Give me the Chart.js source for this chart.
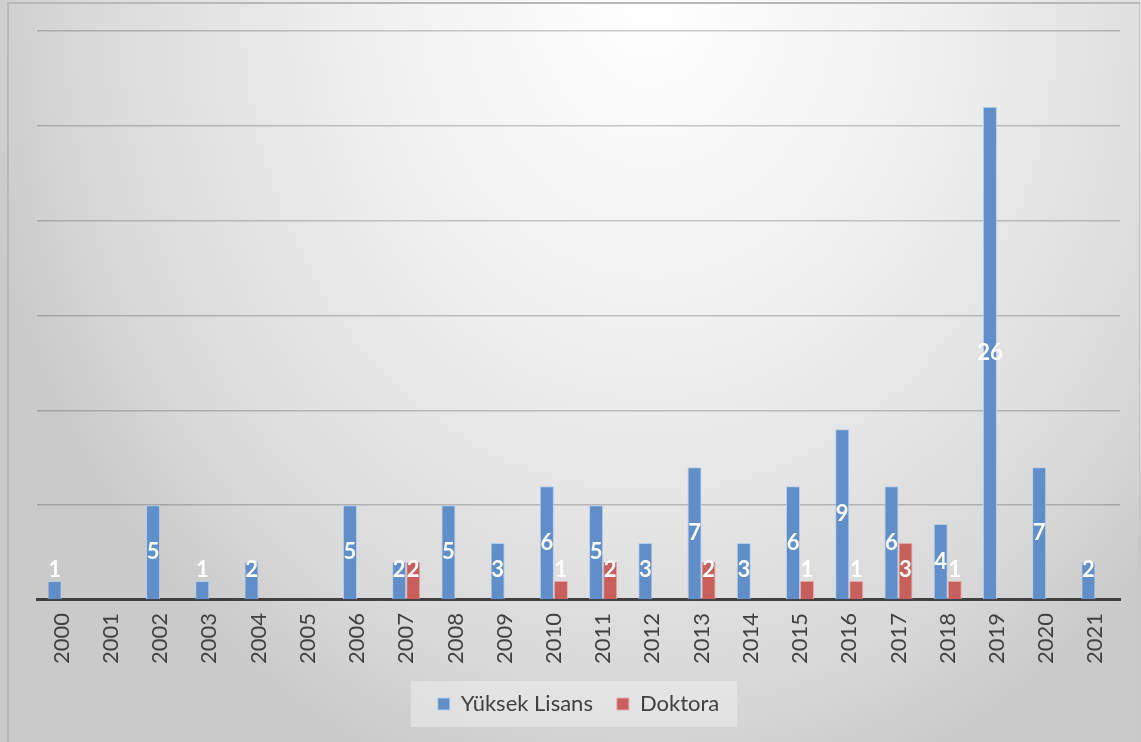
<!DOCTYPE html>
<html>
<head>
<meta charset="utf-8">
<script src="https://cdn.jsdelivr.net/npm/chart.js@4.4.1/dist/chart.umd.min.js"></script>
<style>
  html, body { margin: 0; padding: 0; }
  body {
    width: 1141px; height: 742px; overflow: hidden;
    background: radial-gradient(ellipse 680px 820px at 650px 0px, #ffffff 0%, #eeeeee 45%, #d8d8d8 85%, #cacaca 100%);
  }
  #wrap {
    position: absolute; left: 7px; top: 2px; width: 1130px; height: 740px;
    border-top: 2px solid #b8b8b8; border-left: 2px solid #b8b8b8; border-right: 1px solid #c4c4c4;
  }
  canvas { position: absolute; left: -9px; top: -4px; }
</style>
</head>
<body>
<div id="wrap"><canvas id="chart" width="1141" height="742"></canvas></div>
<script>
const years = ['2000', '2001', '2002', '2003', '2004', '2005', '2006', '2007', '2008', '2009', '2010',
  '2011', '2012', '2013', '2014', '2015', '2016', '2017', '2018', '2019', '2020', '2021'];
const yuksekLisans = [1, 0, 5, 1, 2, 0, 5, 2, 5, 3, 6, 5, 3, 7, 3, 6, 9, 6, 4, 26, 7, 2];
const doktora = [0, 0, 0, 0, 0, 0, 0, 2, 0, 0, 1, 2, 0, 2, 0, 1, 1, 3, 1, 0, 0, 0];
const yMax = 30;
const yStep = 5;

const textColor = '#404040';

// bar value labels, white bold inside the bar
const barLabels = {
  id: 'barLabels',
  afterDatasetsDraw(chart) {
    const ctx = chart.ctx;
    ctx.save();
    ctx.font = 'bold 22px Lato';
    ctx.fillStyle = '#ffffff';
    ctx.textAlign = 'center';
    ctx.textBaseline = 'middle';
    chart.data.datasets.forEach((ds, i) => {
      const meta = chart.getDatasetMeta(i);
      meta.data.forEach((bar, j) => {
        const v = ds.data[j];
        if (!v) return;
        const mid = (bar.y + bar.base) / 2;
        const y = Math.min(mid, bar.base - 29);
        ctx.fillText(String(v), bar.x, y);
      });
    });
    ctx.restore();
  }
};

// light box behind the legend
const legendBox = {
  id: 'legendBox',
  beforeDraw(chart) {
    const boxes = chart.legend && chart.legend.legendHitBoxes;
    if (!boxes || !boxes.length) return;
    const l = Math.min(...boxes.map(b => b.left)) - 27;
    const r = Math.max(...boxes.map(b => b.left + b.width)) + 18;
    const t = Math.min(...boxes.map(b => b.top)) - 12;
    const btm = Math.max(...boxes.map(b => b.top + b.height)) + 12;
    const ctx = chart.ctx;
    ctx.save();
    ctx.fillStyle = 'rgba(240,240,240,0.5)';
    ctx.fillRect(l, t, r - l, btm - t);
    ctx.restore();
  }
};

new Chart(document.getElementById('chart'), {
  type: 'bar',
  data: {
    labels: years,
    datasets: [
      {
        label: 'Yüksek Lisans',
        data: yuksekLisans,
        backgroundColor: '#5f8ec8',
        borderColor: '#b7cce8',
        borderWidth: 1,
        borderSkipped: 'bottom'
      },
      {
        label: 'Doktora',
        data: doktora,
        backgroundColor: '#c75f5d',
        borderColor: '#e6a9a7',
        borderWidth: 1,
        borderSkipped: 'bottom'
      }
    ]
  },
  options: {
    responsive: false,
    animation: false,
    layout: { padding: { left: 37, right: 21, top: 31, bottom: 17 } },
    datasets: { bar: { categoryPercentage: 0.57, barPercentage: 1.0 } },
    plugins: {
      legend: {
        position: 'bottom',
        labels: {
          color: textColor,
          font: { family: 'Lato', size: 22 },
          boxWidth: 12,
          boxHeight: 12,
          padding: 24,
          generateLabels(chart) {
            return chart.data.datasets.map((ds, i) => ({
              text: ds.label,
              fillStyle: ds.backgroundColor,
              strokeStyle: ds.borderColor,
              lineWidth: 1,
              fontColor: textColor,
              datasetIndex: i
            }));
          }
        }
      },
      tooltip: { enabled: false }
    },
    scales: {
      x: {
        grid: { display: false },
        border: { display: true, color: '#404040', width: 3 },
        ticks: {
          color: textColor,
          font: { family: 'Lato', size: 22 },
          minRotation: 90,
          maxRotation: 90,
          padding: 5,
          autoSkip: false
        }
      },
      y: {
        min: 0,
        max: yMax,
        ticks: { display: false, stepSize: yStep },
        grid: { color: 'rgba(0,0,0,0.2)', lineWidth: 1.5, drawTicks: false },
        border: { display: false },
        afterFit(scale) { scale.width = 0; }
      }
    }
  },
  plugins: [legendBox, barLabels]
});
</script>
</body>
</html>
